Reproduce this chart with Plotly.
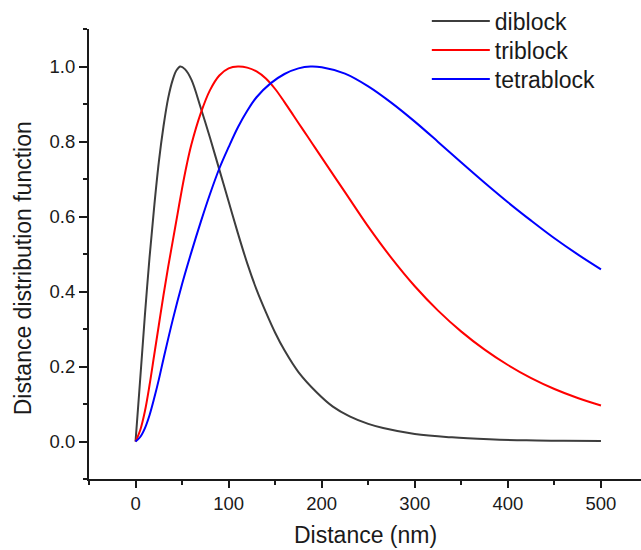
import plotly.graph_objects as go

# Distance axis samples (nm) and normalised distribution values for each chain type
diblock_x = [0, 3, 6, 10, 15, 20, 25, 30, 35, 40, 44, 48, 53, 60, 70, 80, 90, 100,
             110, 120, 130, 140, 150, 160, 175, 195, 212, 230, 250, 266, 300, 340,
             380, 420, 460, 500]
diblock_y = [0.0, 0.10, 0.20, 0.335, 0.49, 0.625, 0.745, 0.84, 0.915, 0.965, 0.99, 1.0,
             0.993, 0.965, 0.89, 0.81, 0.725, 0.64, 0.555, 0.475, 0.405, 0.345, 0.29,
             0.243, 0.185, 0.13, 0.093, 0.067, 0.047, 0.036, 0.02, 0.011, 0.006,
             0.003, 0.002, 0.001]

triblock_x = [0, 5, 10, 15, 20, 25, 30, 35, 40, 45, 50, 55, 60, 70, 80, 90, 100, 110,
              120, 130, 140, 150, 160, 170, 180, 190, 200, 225, 250, 275, 300, 325,
              350, 375, 400, 425, 450, 475, 500]
triblock_y = [0.0, 0.03, 0.08, 0.15, 0.23, 0.31, 0.39, 0.465, 0.535, 0.605, 0.675, 0.738,
              0.792, 0.875, 0.937, 0.976, 0.995, 1.0, 0.997, 0.987, 0.968, 0.94, 0.905,
              0.868, 0.831, 0.794, 0.757, 0.665, 0.573, 0.489, 0.414, 0.349, 0.293,
              0.245, 0.204, 0.169, 0.14, 0.116, 0.096]

tetrablock_x = [0, 5, 10, 15, 20, 25, 30, 40, 50, 60, 70, 80, 90, 100, 110, 120, 130,
                145, 160, 175, 188, 200, 225, 250, 275, 300, 325, 350, 375, 400, 425,
                450, 475, 500]
tetrablock_y = [0.0, 0.012, 0.035, 0.07, 0.115, 0.165, 0.22, 0.325, 0.42, 0.505, 0.585,
                0.66, 0.728, 0.785, 0.838, 0.882, 0.918, 0.955, 0.98, 0.995, 1.0, 0.998,
                0.981, 0.947, 0.903, 0.853, 0.799, 0.744, 0.69, 0.638, 0.589, 0.542,
                0.499, 0.459]

series = [
    ("diblock", diblock_x, diblock_y, "#3d3d3d"),
    ("triblock", triblock_x, triblock_y, "#ff0000"),
    ("tetrablock", tetrablock_x, tetrablock_y, "#0000ff"),
]

x_ticks = [0, 100, 200, 300, 400, 500]
y_ticks = [0.0, 0.2, 0.4, 0.6, 0.8, 1.0]

font_family = "Liberation Sans, Arial, sans-serif"
ink = "#1a1a1a"

# one legend box per series, stacked down the upper-right corner
legend_ids = ["legend", "legend2", "legend3"]
legend_rows = [1.0178, 0.9533, 0.8889]

fig = go.Figure()
for (name, xs, ys, color), lid in zip(series, legend_ids):
    fig.add_trace(go.Scatter(
        x=xs, y=ys, name=name, mode="lines", legend=lid,
        line=dict(color=color, width=2, shape="spline", smoothing=1.0),
    ))

axis_common = dict(
    showgrid=False, zeroline=False, showline=True, linecolor=ink, linewidth=2,
    ticks="outside", tickwidth=2, tickcolor=ink,
    tickfont=dict(family=font_family, size=18.5, color=ink),
    mirror=False,
)

fig.update_xaxes(
    range=[-50, 543], tickvals=x_ticks, ticktext=[str(v) for v in x_ticks],
    ticklen=7,
    minor=dict(dtick=50, tick0=0, ticks="outside", ticklen=4, tickwidth=2,
               tickcolor=ink),
    **axis_common,
)
fig.update_yaxes(
    range=[-0.1, 1.1], tickvals=y_ticks, ticktext=[f"{v:.1f}" for v in y_ticks],
    ticklen=8,
    minor=dict(dtick=0.1, tick0=0, ticks="outside", ticklen=4, tickwidth=2,
               tickcolor=ink),
    **axis_common,
)

legend_style = dict(
    x=0.612, xanchor="left", yanchor="middle",
    font=dict(family=font_family, size=23, color=ink),
    bgcolor="rgba(0,0,0,0)", itemwidth=58,
)

fig.update_layout(
    width=641, height=550,
    margin=dict(l=89, r=0, t=29, b=71, autoexpand=False),
    plot_bgcolor="white", paper_bgcolor="white",
    showlegend=True,
    legend=dict(y=legend_rows[0], **legend_style),
    legend2=dict(y=legend_rows[1], **legend_style),
    legend3=dict(y=legend_rows[2], **legend_style),
    annotations=[
        dict(text="Distance (nm)", xref="paper", yref="paper", x=0.5, y=-0.124,
             xanchor="center", yanchor="middle", showarrow=False,
             font=dict(family=font_family, size=23, color=ink)),
        dict(text="Distance distribution function", xref="paper", yref="paper",
             x=-0.118, y=0.468, xanchor="center", yanchor="middle", textangle=-90,
             showarrow=False,
             font=dict(family=font_family, size=23, color=ink)),
    ],
)

fig.write_html("out.html")
